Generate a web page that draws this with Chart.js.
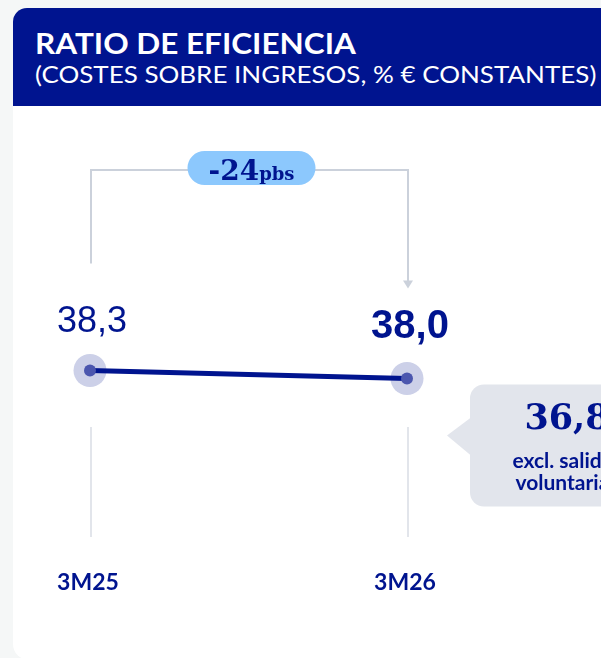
<!DOCTYPE html>
<html>
<head>
<meta charset="utf-8">
<script src="https://cdn.jsdelivr.net/npm/chart.js@4/dist/chart.umd.min.js"></script>
<style>
  html, body { margin: 0; padding: 0; background: #f5f7f7; width: 601px; height: 658px; overflow: hidden; }
  .card { position: absolute; left: 13px; top: 8px; width: 680px; height: 652px; background: #fff; border-radius: 14px 0 0 16px; overflow: hidden; }
  .card_head { height: 98px; background: #00148f; color: #fff; font-family: Lato, sans-serif; padding-left: 22px; box-sizing: border-box; }
  .card_head h1 { margin: 0; padding-top: 19px; font-size: 28px; font-weight: 700; line-height: 32px; white-space: nowrap; transform: scaleX(1.125); transform-origin: left; }
  .card_head h2 { margin: 0; font-size: 23px; font-weight: 400; line-height: 30px; white-space: nowrap; transform: scaleX(1.13); transform-origin: left; }
  #myChart { position: absolute; left: 0; top: 98px; }
</style>
</head>
<body>
<div class="card">
  <div class="card_head">
    <h1>RATIO DE EFICIENCIA</h1>
    <h2>(COSTES SOBRE INGRESOS, % € CONSTANTES)</h2>
  </div>
  <canvas id="myChart" width="640" height="552"></canvas>
</div>
<script>
// data
const periods = ['3M25', '3M26'];
const ratio = [38.3, 38.0];
const changeBps = '-24';
const changeUnit = 'pbs';
const exclValue = 36.8;
const exclLabel = ['excl. salidas', 'voluntarias'];

const navy = '#00148f';
const fmt = v => v.toFixed(1).replace('.', ',');

const annotations = {
  id: 'annotations',
  beforeDatasetsDraw(chart) {
    const ctx = chart.ctx;
    const pts = chart.getDatasetMeta(0).data;
    ctx.save();
    // light vertical guides under each point
    ctx.strokeStyle = '#e2e5eb';
    ctx.lineWidth = 2;
    pts.forEach(p => {
      ctx.beginPath();
      ctx.moveTo(p.x + 1, 321);
      ctx.lineTo(p.x + 1, 431);
      ctx.stroke();
    });
    // halos
    ctx.fillStyle = '#ccd0e8';
    pts.forEach(p => {
      ctx.beginPath();
      ctx.arc(p.x, p.y, 16.5, 0, Math.PI * 2);
      ctx.fill();
    });
    ctx.restore();
  },
  afterDatasetsDraw(chart) {
    const ctx = chart.ctx;
    const pts = chart.getDatasetMeta(0).data;
    const p0 = pts[0], p1 = pts[1];
    ctx.save();

    // value labels
    ctx.fillStyle = navy;
    ctx.textAlign = 'center';
    ctx.textBaseline = 'alphabetic';
    ctx.font = '36px "Liberation Sans", Arial, sans-serif';
    ctx.fillText(fmt(ratio[0]), p0.x + 2, p0.y - 38);
    ctx.font = 'bold 40px "Liberation Sans", Arial, sans-serif';
    ctx.fillText(fmt(ratio[1]), p1.x + 3, p1.y - 41);

    // bracket with arrow
    const top = 64;
    ctx.strokeStyle = '#cbd1db';
    ctx.lineWidth = 2;
    ctx.beginPath();
    ctx.moveTo(p0.x + 1, p0.y - 107);
    ctx.lineTo(p0.x + 1, top);
    ctx.lineTo(p1.x + 1, top);
    ctx.lineTo(p1.x + 1, p1.y - 94);
    ctx.stroke();
    ctx.fillStyle = '#cbd1db';
    ctx.beginPath();
    ctx.moveTo(p1.x - 4, p1.y - 98);
    ctx.lineTo(p1.x + 6, p1.y - 98);
    ctx.lineTo(p1.x + 1, p1.y - 90);
    ctx.closePath();
    ctx.fill();

    // badge
    const bx = (p0.x + p1.x) / 2 + 3;
    const by = 62;
    ctx.fillStyle = '#8cc8fd';
    ctx.beginPath();
    ctx.roundRect(bx - 64, by - 17, 128, 34, 17);
    ctx.fill();
    ctx.fillStyle = navy;
    ctx.textAlign = 'left';
    ctx.font = 'bold 28px "DejaVu Serif", serif';
    const w1 = ctx.measureText(changeBps).width;
    ctx.font = 'bold 18px "DejaVu Serif", serif';
    const w2 = ctx.measureText(changeUnit).width;
    let tx = bx - (w1 + w2) / 2;
    ctx.font = 'bold 28px "DejaVu Serif", serif';
    ctx.fillText(changeBps, tx, by + 12);
    ctx.font = 'bold 18px "DejaVu Serif", serif';
    ctx.fillText(changeUnit, tx + w1, by + 12);

    // callout
    const cx = p1.x + 160;
    ctx.fillStyle = '#e2e5ec';
    ctx.beginPath();
    ctx.roundRect(p1.x + 63, p1.y + 6, 200, 122, 14);
    ctx.fill();
    ctx.beginPath();
    ctx.moveTo(p1.x + 64, p1.y + 39);
    ctx.lineTo(p1.x + 40, p1.y + 57);
    ctx.lineTo(p1.x + 64, p1.y + 77);
    ctx.closePath();
    ctx.fill();
    ctx.fillStyle = navy;
    ctx.textAlign = 'center';
    ctx.font = 'bold 35px "DejaVu Serif", serif';
    ctx.fillText(fmt(exclValue), cx, p1.y + 50);
    ctx.font = 'bold 21px Lato, sans-serif';
    ctx.fillText(exclLabel[0], cx, p1.y + 89);
    ctx.fillText(exclLabel[1], cx, p1.y + 111);

    // period labels
    ctx.font = 'bold 23px Lato, sans-serif';
    pts.forEach((p, i) => ctx.fillText(periods[i], p.x - 2, 484));

    ctx.restore();
  }
};

const ctx = document.getElementById('myChart').getContext('2d');
const myChart = new Chart(ctx, {
  type: 'line',
  data: {
    labels: periods,
    datasets: [{
      data: ratio,
      borderColor: navy,
      borderWidth: 5,
      tension: 0,
      pointRadius: 6,
      pointBorderWidth: 0,
      pointBackgroundColor: '#4b56ae',
      clip: false
    }]
  },
  options: {
    responsive: false,
    animation: false,
    layout: { padding: { left: 77, right: 246, top: 139, bottom: 146 } },
    plugins: { legend: { display: false }, tooltip: { enabled: false } },
    scales: {
      x: { display: false, offset: false },
      y: { display: false, min: 33, max: 43 }
    }
  },
  plugins: [annotations]
});
</script>
</body>
</html>
